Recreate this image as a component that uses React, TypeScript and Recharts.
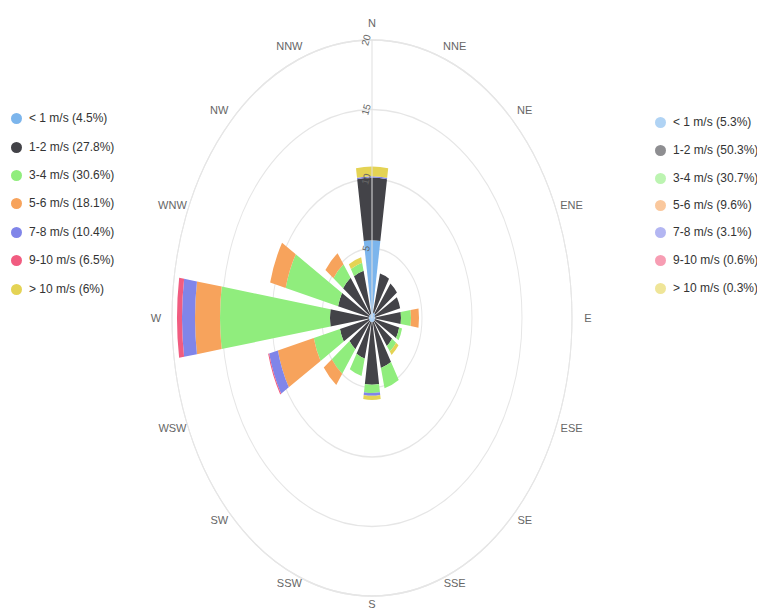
import React from "react";
import {
  RadialBarChart,
  RadialBar,
  PolarAngleAxis,
  PolarRadiusAxis,
  PolarGrid,
} from "recharts";

const directions = ["N", "NNE", "NE", "ENE", "E", "ESE", "SE", "SSE", "S", "SSW", "SW", "WSW", "W", "WNW", "NW", "NNW"];

const speedBins = ["< 1 m/s", "1-2 m/s", "3-4 m/s", "5-6 m/s", "7-8 m/s", "9-10 m/s", "> 10 m/s"];
const leftShares = ["4.5%", "27.8%", "30.6%", "18.1%", "10.4%", "6.5%", "6%"];
const rightShares = ["5.3%", "50.3%", "30.7%", "9.6%", "3.1%", "0.6%", "0.3%"];
const colors = ["#7cb5ec", "#434348", "#90ed7d", "#f7a35c", "#8085e9", "#f15c80", "#e4d354"];

// frequency per direction, stacked from the centre outwards
const under1 = [5.6, 0.4, 0.4, 0.3, 0.3, 0.3, 0.3, 0.3, 0.3, 0.3, 0.3, 0.3, 0.3, 0.3, 0.3, 0.3];
const s1to2 = [4.5, 2.9, 2.7, 2.6, 2.6, 2.5, 2.2, 3.4, 4.5, 2.7, 2.5, 3.0, 3.9, 3.2, 3.3, 3.2];
const s3to4 = [0, 0, 0, 0, 1.0, 0.3, 0.5, 1.5, 0.6, 1.3, 2.2, 2.7, 11.0, 5.4, 1.2, 0.6];
const s5to6 = [0, 0, 0, 0, 0.8, 0, 0, 0, 0, 0, 1.0, 3.7, 2.5, 1.6, 1.0, 0];
const s7to8 = [0.1, 0, 0, 0, 0, 0, 0, 0, 0.2, 0, 0, 0.9, 1.3, 0, 0, 0];
const s9to10 = [0, 0, 0, 0, 0, 0, 0, 0, 0, 0, 0, 0.1, 0.5, 0, 0, 0];
const over10 = [0.7, 0, 0, 0, 0, 0, 0.3, 0, 0.3, 0, 0, 0, 0, 0, 0, 0.4];

const radiusTicks = [0, 5, 10, 15, 20];

const series = [under1, s1to2, s3to4, s5to6, s7to8, s9to10, over10];
const keys = ["b0", "b1", "b2", "b3", "b4", "b5", "b6"];

const data = directions.map((dir, i) => {
  const row: any = { dir };
  series.forEach((s, k) => (row[keys[k]] = s[i]));
  return row;
});

const W = 757;
const H = 460;
const CX = 372;
const CY = 230;
const STRETCH = 1.39;
const RAD = Math.PI / 180;
// bars are drawn from the tick onwards, so the axis is turned back half a sector
const HALF = 360 / directions.length / 2;

const AngleTick = (props: any) => {
  const a = props.payload.coordinate + HALF;
  const s = Math.sin(-a * RAD);
  const x = CX + 216 * Math.cos(-a * RAD);
  const y = CY + (s < 0 ? 212 : 206) * s;
  return (
    <g transform={`translate(${x},${y}) scale(1,${1 / STRETCH})`}>
      <text x={0} y={0} textAnchor="middle" dominantBaseline="central" fontSize={11} fill="#666666">
        {props.payload.value}
      </text>
    </g>
  );
};

const RadiusTick = (props: any) => {
  const v = props.payload.value;
  if (v === 0) return null;
  return (
    <g transform={`translate(${props.x - 6},${props.y}) scale(1,${1 / STRETCH}) rotate(-75)`}>
      <text x={0} y={0} textAnchor="middle" dominantBaseline="central" fontSize={10} fill="#666666">
        {v}
      </text>
    </g>
  );
};

const Legend = ({ shares, left, tops, faded }: { shares: string[]; left: number; tops: number[]; faded?: boolean }) => (
  <div style={{ position: "absolute", left, top: 0 }}>
    {speedBins.map((b, i) => (
      <div
        key={b}
        style={{
          position: "absolute",
          top: tops[i] - 8,
          left: 0,
          display: "flex",
          alignItems: "center",
          whiteSpace: "nowrap",
          fontSize: 12,
          color: "#333333",
          height: 16,
        }}
      >
        <span
          style={{
            display: "inline-block",
            width: 11,
            height: 11,
            borderRadius: "50%",
            background: colors[i],
            opacity: faded ? 0.6 : 1,
            marginRight: 7,
          }}
        />
        {`${b} (${shares[i]})`}
      </div>
    ))}
  </div>
);

export default function App() {
  return (
    <div
      style={{
        position: "absolute",
        left: 0,
        top: 0,
        width: W,
        height: 611,
        overflow: "hidden",
        background: "#ffffff",
        fontFamily: "'Liberation Sans', Arial, sans-serif",
      }}
    >
      <div
        style={{
          position: "absolute",
          left: 0,
          top: 318 - CY,
          width: W,
          height: H,
          transform: `scaleY(${STRETCH})`,
          transformOrigin: `${CX}px ${CY}px`,
        }}
      >
        <RadialBarChart
          width={W}
          height={H}
          data={data}
          layout="centric"
          cx={CX}
          cy={CY}
          innerRadius={0}
          outerRadius={200}
          startAngle={90 - HALF}
          endAngle={-270 - HALF}
          barCategoryGap="12%"
        >
          <PolarGrid gridType="circle" radialLines={false} stroke="#e6e6e6" />
          <PolarAngleAxis
            type="category"
            dataKey="dir"
            axisLineType="circle"
            stroke="#e6e6e6"
            tickLine={false}
            tick={AngleTick}
          />
          <PolarRadiusAxis
            type="number"
            angle={90}
            domain={[0, 20]}
            ticks={radiusTicks}
            axisLine={{ stroke: "#e0e0e0" }}
            tickLine={false}
            tick={RadiusTick}
          />
          {keys.map((k, i) => (
            <RadialBar key={k} dataKey={k} stackId="a" fill={colors[i]} isAnimationActive={false} />
          ))}
        </RadialBarChart>
      </div>
      <Legend shares={leftShares} left={11} tops={[118, 147, 175, 203, 232, 260, 289]} />
      <Legend shares={rightShares} left={655} tops={[122, 150, 178, 205, 232, 260, 288]} faded />
    </div>
  );
}
